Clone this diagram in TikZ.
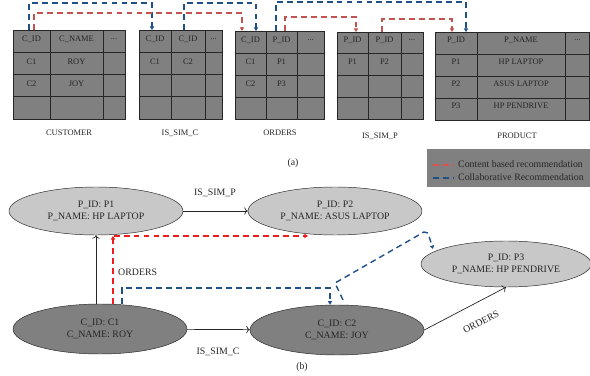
\documentclass[tikz,border=0pt]{standalone}
\usepackage{fontspec}
\setmainfont{Liberation Serif}
\usetikzlibrary{shapes.geometric,arrows.meta}
\definecolor{tblgray}{RGB}{128,128,128}
\definecolor{lgray}{RGB}{200,200,200}
\definecolor{recred}{RGB}{196,82,78}
\definecolor{legred}{RGB}{226,80,80}
\definecolor{hotred}{RGB}{240,28,28}
\definecolor{recblue}{RGB}{33,80,135}
\tikzset{
  tbl/.style={fill=tblgray,draw=black!85,line width=0.7pt},
  gridline/.style={draw=black!85,line width=0.7pt},
  cell/.style={inner sep=0pt,text=black!85,font=\fontsize{7.2}{8}\selectfont},
  tcap/.style={inner sep=0pt,text=black!85,font=\fontsize{7.2}{8}\selectfont},
  recdash/.style={line width=1.2pt,dash pattern=on 5pt off 3.5pt,-{Triangle[length=3pt,width=3.5pt]}},
  prodnode/.style={ellipse,draw=black!85,fill=lgray,inner sep=0pt,minimum width=5.22cm,minimum height=1.44cm,
    align=center,text=black!85,font=\fontsize{8.4}{10.2}\selectfont},
  custnode/.style={prodnode,fill=tblgray,minimum height=1.5cm},
  rel/.style={draw=black!85,line width=0.6pt,-{To[length=3pt]}},
  lbl/.style={inner sep=0pt,text=black!85,font=\fontsize{8.4}{10}\selectfont}
}
\begin{document}
\begin{tikzpicture}[x=0.03cm,y=-0.03cm]
\useasboundingbox (0,0) rectangle (590,376);

% tables
\foreach \l/\r/\t/\b/\xa/\xb in {13/125/30/119/50/103, 139/222/30/119/171/205, 235/324/31/119/266/297,
  337/423/32/119/368/401, 435/589.6/32/120/477/565}
{
  \filldraw[tbl] (\l,\t) rectangle (\r,\b);
  \foreach \x in {\xa,\xb} \draw[gridline] (\x,\t) -- (\x,\b);
  \foreach \k in {1,2,3} \draw[gridline] (\l,{\t+\k*(\b-\t)/4}) -- (\r,{\t+\k*(\b-\t)/4});
}

% CUSTOMER
\node[cell] (cu11) at (31.5,39) {C\_ID};
\node[cell] (cu12) at (76.5,39) {C\_NAME};
\node[cell] (cu13) at (114,39) {...};
\node[cell] (cu21) at (31.5,62) {C1};
\node[cell] (cu22) at (76.5,62) {ROY};
\node[cell] (cu31) at (31.5,84) {C2};
\node[cell] (cu32) at (76.5,84) {JOY};
\node[tcap] (cucap) at (69,133) {CUSTOMER};
% IS_SIM_C
\node[cell] (sc11) at (155,39) {C\_ID};
\node[cell] (sc12) at (188,39) {C\_ID};
\node[cell] (sc13) at (213.5,39) {...};
\node[cell] (sc21) at (155,62) {C1};
\node[cell] (sc22) at (188,62) {C2};
\node[tcap] (sccap) at (180,133) {IS\_SIM\_C};
% ORDERS
\node[cell] (or11) at (250.5,40) {C\_ID};
\node[cell] (or12) at (281.5,40) {P\_ID};
\node[cell] (or13) at (310.5,40) {...};
\node[cell] (or21) at (250.5,62) {C1};
\node[cell] (or22) at (281.5,62) {P1};
\node[cell] (or31) at (250.5,84) {C2};
\node[cell] (or32) at (281.5,84) {P3};
\node[tcap] (orcap) at (280,133) {ORDERS};
% IS_SIM_P
\node[cell] (sp11) at (352.5,40) {P\_ID};
\node[cell] (sp12) at (384.5,40) {P\_ID};
\node[cell] (sp13) at (412,40) {...};
\node[cell] (sp21) at (352.5,62) {P1};
\node[cell] (sp22) at (384.5,62) {P2};
\node[tcap] (spcap) at (380,136) {IS\_SIM\_P};
% PRODUCT
\node[cell] (pr11) at (456,40) {P\_ID};
\node[cell] (pr12) at (521,40) {P\_NAME};
\node[cell] (pr13) at (577.5,40) {...};
\node[cell] (pr21) at (456,62) {P1};
\node[cell] (pr22) at (521,62) {HP LAPTOP};
\node[cell] (pr31) at (456,84) {P2};
\node[cell] (pr32) at (521,84) {ASUS LAPTOP};
\node[cell] (pr41) at (456,106) {P3};
\node[cell] (pr42) at (521,106) {HP PENDRIVE};
\node[tcap] (pretxt) at (517,136) {PRODUCT};

% key links between tables
\coordinate (cuA) at (29,30);   \coordinate (cuB) at (34,30);
\coordinate (scA) at (152,30);  \coordinate (scB) at (184,30);
\coordinate (orA) at (242,31);  \coordinate (orB) at (256,31);
\coordinate (orC) at (276,31);  \coordinate (orD) at (285,31);
\coordinate (spA) at (356,32);  \coordinate (spB) at (382,32);
\coordinate (prA) at (452,32);  \coordinate (prB) at (466,32);
\draw[recdash,recblue] (cuA) -- ++(0,-27) -| (scA);
\draw[recdash,recred] (cuB) -- ++(0,-17) -| (orA);
\draw[recdash,recblue] (scB) -- ++(0,-27) -| (orB);
\draw[recdash,recblue] (orC) -- ++(0,-29) -| (prB);
\draw[recdash,recred] (orD) -- ++(0,-14) -| (spA);
\draw[recdash,recred] (spB) -- ++(0,-13) -| (prA);

\node[lbl] (capa) at (293,163) {(a)};

% legend
\fill[tblgray] (427,149) rectangle (590,187);
\coordinate (lr1) at (433,165); \coordinate (lr2) at (453,165);
\coordinate (lb1) at (433,178); \coordinate (lb2) at (453,178);
\draw[line width=1.2pt,dash pattern=on 5pt off 3.5pt,legred] (lr1) -- (lr2);
\draw[line width=1.2pt,dash pattern=on 5pt off 3.5pt,recblue] (lb1) -- (lb2);
\node[lbl,anchor=west] (legr) at (458,164) {Content based recommendation};
\node[lbl,anchor=west] (legb) at (458,177) {Collaborative Recommendation};

% graph
\node[prodnode] (p1) at (96,211) {P\_ID: P1\\P\_NAME: HP LAPTOP};
\node[prodnode] (p2) at (335,211) {P\_ID: P2\\P\_NAME: ASUS LAPTOP};
\node[prodnode,minimum width=5.1cm,minimum height=1.38cm] (p3) at (506,264) {P\_ID: P3\\P\_NAME: HP PENDRIVE};
\node[custnode] (c1) at (100,329) {C\_ID: C1\\C\_NAME: ROY};
\node[custnode] (c2) at (337,330) {C\_ID: C2\\C\_NAME: JOY};

\draw[rel] (p1) -- (p2);
\draw[rel] (c1) -- (c2);
\draw[rel] (c1.north -| p1.south) -- (p1.south);
\draw[rel] (c2.east) -- (p3.south);
\node[lbl] (lsp) at (215,193) {IS\_SIM\_P};
\node[lbl] (lsc) at (218,352) {IS\_SIM\_C};
\node[lbl,anchor=west] (lor1) at (118,272) {ORDERS};
\node[lbl,rotate=27] (lor2) at (481,322) {ORDERS};

% recommendations
\coordinate (r1) at (113,236); \coordinate (r2) at (308,236);
\draw[recdash,hotred] (c1.north -| r1) -- (r1);
\draw[recdash,hotred,shorten <=0.6pt] (r1) -- (r2);
\coordinate (b1) at (122,288); \coordinate (b2) at (330,288);
\draw[recdash,recblue] (c1.north -| b1) -- (b1) -- (b2) -- (c2.north -| b2);
\coordinate (b3) at (343,300); \coordinate (b4) at (335,283);
\coordinate (b5) at (424,232); \coordinate (b6) at (428,233);
\coordinate (b7) at (433,249);
\draw[recdash,recblue] (b3) -- (b4) -- (b5) -- (b6) -- (b7);

\node[lbl] (capb) at (302,367) {(b)};
\end{tikzpicture}
\end{document}
